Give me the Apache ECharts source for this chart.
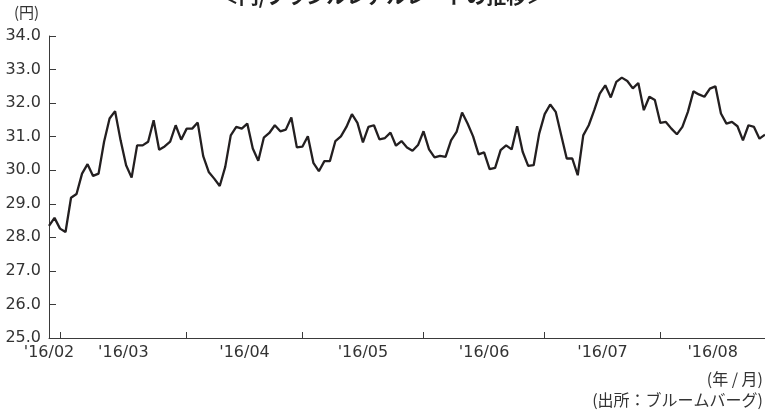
<!DOCTYPE html>
<html>
<head>
<meta charset="utf-8">
<script src="https://cdn.jsdelivr.net/npm/echarts@6/dist/echarts.min.js"></script>
<style>
html,body{margin:0;padding:0;background:#fff;}
#chart{width:765px;height:410px;}
</style>
</head>
<body>
<div id="chart"></div>
<script>
// Title & texts
var chartTitle = '＜円/ブラジルレアルレートの推移＞';
var yUnit = '(円)';
var xUnit = '(年 / 月)';
var sourceNote = '(出所：ブルームバーグ)';

// First trading day shown (weekdays from here on)
var startDate = '2016-02-26';

// Yen per Brazilian real, daily (weekdays)
var rates = [
  28.34, 28.58, 28.26, 28.16, 29.18, 29.29, 29.90, 30.18, 29.83, 29.90,
  30.85, 31.54, 31.76, 30.89, 30.15, 29.78, 30.74, 30.74, 30.85, 31.49,
  30.61, 30.71, 30.85, 31.34, 30.91, 31.24, 31.24, 31.42, 30.42, 29.95,
  29.75, 29.53, 30.10, 31.04, 31.29, 31.24, 31.39, 30.65, 30.28, 30.97,
  31.11, 31.34, 31.16, 31.21, 31.57, 30.68, 30.70, 31.01, 30.22, 29.97,
  30.27, 30.27, 30.87, 31.01, 31.29, 31.67, 31.41, 30.83, 31.29, 31.34,
  30.92, 30.96, 31.12, 30.73, 30.87, 30.68, 30.58, 30.75, 31.16, 30.62,
  30.38, 30.43, 30.40, 30.89, 31.14, 31.72, 31.39, 31.01, 30.47, 30.53,
  30.03, 30.07, 30.60, 30.74, 30.62, 31.31, 30.55, 30.13, 30.15, 31.09,
  31.67, 31.96, 31.74, 31.04, 30.35, 30.35, 29.85, 31.04, 31.34, 31.79,
  32.28, 32.53, 32.17, 32.63, 32.76, 32.66, 32.44, 32.60, 31.79, 32.19,
  32.09, 31.41, 31.44, 31.24, 31.07, 31.29, 31.74, 32.35, 32.26, 32.19,
  32.43, 32.50, 31.69, 31.39, 31.44, 31.31, 30.89, 31.34, 31.29, 30.94,
  31.06
];

// Y axis range
var yMin = 25, yMax = 34, yStep = 1;

// Build weekday categories
var dates = [];
(function(){
  var d = new Date(startDate + 'T00:00:00Z');
  while (dates.length < rates.length) {
    var wd = d.getUTCDay();
    if (wd !== 0 && wd !== 6) {
      dates.push(d.toISOString().slice(0,10));
    }
    d.setUTCDate(d.getUTCDate() + 1);
  }
})();

// Month groups
var months = [];
dates.forEach(function(ds, i){
  var key = ds.slice(0,7);
  if (!months.length || months[months.length-1].key !== key) {
    months.push({key: key, start: i, end: i});
  } else {
    months[months.length-1].end = i;
  }
});
var monthStarts = months.filter(function(m){return m.start > 0;}).map(function(m){return m.start;});
var labelPos = [];
var labelText = {};
months.forEach(function(m, k){
  var next = (k + 1 < months.length) ? months[k+1].start : dates.length - 1;
  var pos = m.start === 0 ? 0 : (m.start + next) / 2;
  labelPos.push(pos);
  labelText[pos] = "'" + m.key.slice(2,4) + '/' + m.key.slice(5,7);
});

var chart = echarts.init(document.getElementById('chart'), null, {renderer: 'canvas'});
var axisColor = '#3a3a3a';
var textColor = '#333';
var option = {
  animation: false,
  backgroundColor: '#fff',
  grid: {left: 49, right: -4, top: 36, bottom: 72, containLabel: false},
  xAxis: {
    type: 'value',
    min: 0,
    max: dates.length - 1,
    axisLine: {show: true, lineStyle: {color: axisColor, width: 1}},
    axisTick: {show: true, inside: true, length: 6, customValues: monthStarts, lineStyle: {color: axisColor}},
    axisLabel: {
      show: true,
      customValues: labelPos,
      margin: 7,
      color: textColor,
      fontFamily: 'DejaVu Sans',
      fontSize: 16,
      formatter: function(v){ return labelText[v] || ''; }
    },
    splitLine: {show: false}
  },
  yAxis: {
    type: 'value',
    min: yMin,
    max: yMax,
    interval: yStep,
    axisLine: {show: true, lineStyle: {color: axisColor, width: 1}},
    axisTick: {show: true, inside: true, length: 7, lineStyle: {color: axisColor}},
    axisLabel: {
      margin: 8,
      color: textColor,
      fontFamily: 'DejaVu Sans',
      fontSize: 16,
      formatter: function(v){ return v.toFixed(1); }
    },
    splitLine: {show: false}
  },
  graphic: [
    {type: 'text', left: 'center', top: -14, style: {text: chartTitle, fontSize: 20, fontWeight: 'bold', fontFamily: 'Noto Sans CJK JP', fill: '#222'}},
    {type: 'text', x: 14, y: 5, style: {text: yUnit, fontSize: 15, fontFamily: 'Noto Sans CJK JP', fill: textColor}},
    {type: 'text', x: 763, y: 379, style: {text: xUnit, fontSize: 16, fontFamily: 'Noto Sans CJK JP', fill: textColor, align: 'right', verticalAlign: 'middle'}},
    {type: 'text', x: 763, y: 400, style: {text: sourceNote, fontSize: 16, fontFamily: 'Noto Sans CJK JP', fill: textColor, align: 'right', verticalAlign: 'middle'}}
  ],
  series: [{
    type: 'line',
    data: rates.map(function(v, i){ return [i, v]; }),
    showSymbol: false,
    symbol: 'none',
    clip: true,
    lineStyle: {color: '#231f20', width: 2.3},
    emphasis: {disabled: true}
  }]
};
chart.setOption(option);
</script>
</body>
</html>
